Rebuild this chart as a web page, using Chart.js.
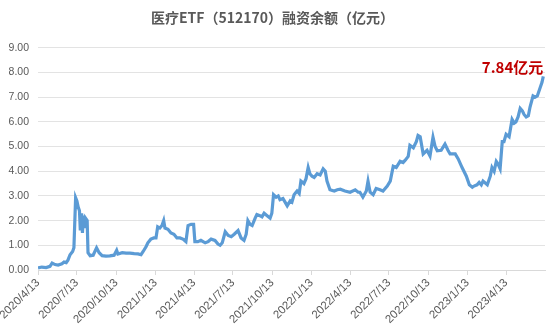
<!DOCTYPE html>
<html>
<head>
<meta charset="utf-8">
<script src="https://cdn.jsdelivr.net/npm/chart.js@4.4.0/dist/chart.umd.min.js"></script>
<style>
  html, body { margin: 0; padding: 0; background: #fff; }
  #wrap { width: 550px; height: 325px; position: relative; }
</style>
</head>
<body>
<div id="wrap"><canvas id="lineChart"></canvas></div>
<script>
const dates = [
  '2020-04-13','2020-04-22','2020-05-02','2020-05-11','2020-05-16','2020-05-23','2020-05-30','2020-06-08','2020-06-13','2020-06-18',
  '2020-06-22','2020-06-27','2020-07-03','2020-07-06','2020-07-10','2020-07-13','2020-07-16','2020-07-19','2020-07-21','2020-07-24',
  '2020-07-26','2020-07-28','2020-07-31','2020-08-02','2020-08-06','2020-08-08','2020-08-13','2020-08-20','2020-08-28','2020-09-03',
  '2020-09-10','2020-09-19','2020-09-28','2020-10-08','2020-10-14','2020-10-17','2020-10-27','2020-11-05','2020-11-14','2020-11-24',
  '2020-12-03','2020-12-10','2020-12-15','2020-12-22','2020-12-26','2021-01-02','2021-01-09','2021-01-14','2021-01-18','2021-01-23',
  '2021-01-28','2021-02-01','2021-02-04','2021-02-11','2021-02-18','2021-02-25','2021-03-04','2021-03-11','2021-03-18','2021-03-25',
  '2021-03-30','2021-04-06','2021-04-12','2021-04-15','2021-04-22','2021-04-29','2021-05-09','2021-05-16','2021-05-23','2021-06-01',
  '2021-06-08','2021-06-13','2021-06-18','2021-06-25','2021-07-02','2021-07-09','2021-07-16','2021-07-25','2021-08-01','2021-08-08',
  '2021-08-13','2021-08-17','2021-08-22','2021-08-27','2021-09-03','2021-09-07','2021-09-14','2021-09-19','2021-09-24','2021-10-01',
  '2021-10-08','2021-10-12','2021-10-16','2021-10-22','2021-10-27','2021-10-31','2021-11-07','2021-11-12','2021-11-17','2021-11-24',
  '2021-11-28','2021-12-03','2021-12-10','2021-12-15','2021-12-19','2021-12-26','2021-12-31','2022-01-05','2022-01-09','2022-01-14',
  '2022-01-19','2022-01-26','2022-02-02','2022-02-09','2022-02-14','2022-02-18','2022-02-25','2022-03-07','2022-03-14','2022-03-21',
  '2022-04-01','2022-04-13','2022-04-25','2022-05-02','2022-05-06','2022-05-13','2022-05-21','2022-05-25','2022-05-30','2022-06-06',
  '2022-06-13','2022-06-22','2022-06-29','2022-07-09','2022-07-16','2022-07-23','2022-07-30','2022-08-08','2022-08-15','2022-08-20',
  '2022-08-27','2022-08-31','2022-09-08','2022-09-15','2022-09-19','2022-09-24','2022-10-01','2022-10-10','2022-10-17','2022-10-24',
  '2022-10-29','2022-11-03','2022-11-12','2022-11-21','2022-11-28','2022-12-03','2022-12-15','2022-12-22','2022-12-31','2023-01-10',
  '2023-01-17','2023-01-24','2023-01-28','2023-02-04','2023-02-09','2023-02-14','2023-02-18','2023-02-28','2023-03-07','2023-03-11',
  '2023-03-16','2023-03-21','2023-03-25','2023-03-30','2023-04-04','2023-04-08','2023-04-13','2023-04-20','2023-04-27','2023-05-02',
  '2023-05-06','2023-05-11','2023-05-16','2023-05-21','2023-05-25','2023-05-30','2023-06-04','2023-06-08','2023-06-15','2023-06-20',
  '2023-06-25','2023-07-02','2023-07-06','2023-07-09'
];

const balance = [
  0.08,0.12,0.10,0.15,0.28,0.22,0.20,0.25,0.32,0.30,
  0.40,0.62,0.75,0.90,2.93,2.80,2.55,2.40,1.60,2.30,
  1.50,2.20,1.70,2.10,2.00,0.70,0.58,0.60,0.90,0.70,
  0.58,0.56,0.57,0.60,0.80,0.65,0.70,0.68,0.68,0.66,
  0.65,0.62,0.75,0.95,1.10,1.25,1.30,1.30,1.75,1.70,
  1.80,2.00,1.70,1.65,1.50,1.45,1.30,1.30,1.25,1.15,
  1.80,1.85,1.85,1.15,1.15,1.20,1.10,1.15,1.25,1.20,
  1.05,1.00,1.10,1.55,1.40,1.35,1.45,1.60,1.30,1.20,
  1.45,2.00,1.85,1.80,2.10,2.25,2.20,2.15,2.30,2.20,
  2.10,2.30,3.05,2.95,3.00,2.85,2.90,2.75,2.60,2.80,
  2.75,3.05,3.20,3.10,3.60,3.50,3.70,4.15,3.90,3.80,
  3.75,3.90,3.85,4.10,4.00,3.60,3.25,3.20,3.25,3.27,
  3.20,3.15,3.25,3.15,3.15,2.95,3.20,3.60,3.15,3.05,
  3.30,3.25,3.20,3.40,3.60,4.20,4.15,4.40,4.35,4.45,
  4.60,5.05,4.95,5.20,5.45,5.40,4.70,4.85,4.62,5.38,
  5.00,4.83,4.85,5.10,4.85,4.70,4.70,4.50,4.15,3.80,
  3.45,3.35,3.40,3.45,3.55,3.45,3.60,3.45,3.80,4.15,
  4.00,4.40,4.30,4.10,5.20,5.20,5.50,5.40,6.10,5.95,
  6.00,6.20,6.55,6.45,6.30,6.20,6.25,6.60,7.05,7.00,
  7.05,7.40,7.60,7.84
];

const tickLabels = ['2020/4/13','2020/7/13','2020/10/13','2021/1/13','2021/4/13','2021/7/13','2021/10/13',
  '2022/1/13','2022/4/13','2022/7/13','2022/10/13','2023/1/13','2023/4/13'];
const axisEnd = '2023/7/13';
const lastLabel = '7.84亿元';

const dayMs = 24 * 60 * 60 * 1000;
function toDay(s) {
  const p = s.split(/[-\/]/).map(Number);
  return Date.UTC(p[0], p[1] - 1, p[2]);
}
const startDay = toDay(tickLabels[0]);
const offset = s => Math.round((toDay(s) - startDay) / dayMs);

const points = dates.map((d, i) => ({ x: offset(d), y: balance[i] }));
const tickOffsets = tickLabels.map(offset);

const labelPlugin = {
  id: 'lastLabel',
  afterDatasetsDraw(chart) {
    const meta = chart.getDatasetMeta(0);
    const last = meta.data[meta.data.length - 1];
    const ctx = chart.ctx;
    ctx.save();
    ctx.font = 'bold 15px "Noto Sans CJK SC", sans-serif';
    ctx.fillStyle = '#c00000';
    ctx.textAlign = 'right';
    ctx.textBaseline = 'alphabetic';
    ctx.fillText(lastLabel, last.x, last.y - 3);
    ctx.restore();
  }
};

new Chart(document.getElementById('lineChart'), {
  type: 'line',
  data: {
    datasets: [{
      data: points,
      borderColor: '#5b9bd5',
      borderWidth: 3.2,
      pointRadius: 0,
      tension: 0,
      fill: false
    }]
  },
  options: {
    responsive: true,
    maintainAspectRatio: false,
    animation: false,
    events: [],
    layout: { padding: { left: 0, right: 5, top: 0, bottom: 0 } },
    plugins: {
      legend: { display: false },
      tooltip: { enabled: false },
      title: {
        display: true,
        text: '医疗ETF（512170）融资余额（亿元）',
        color: '#595959',
        font: { family: '"Noto Sans CJK SC", sans-serif', size: 14, weight: 'bold' },
        padding: { top: 9, bottom: 22 }
      }
    },
    scales: {
      x: {
        type: 'linear',
        min: 0,
        max: offset(axisEnd),
        afterBuildTicks: scale => {
          scale.ticks = tickOffsets.map(v => ({ value: v }));
        },
        afterFit: scale => { scale.height = 55; },
        ticks: {
          autoSkip: false,
          maxRotation: 45,
          minRotation: 45,
          padding: 1,
          color: '#595959',
          font: { family: '"Liberation Sans", sans-serif', size: 11.5 },
          callback: (v) => tickLabels[tickOffsets.indexOf(v)] || ''
        },
        grid: { drawOnChartArea: false, drawTicks: true, tickLength: 5, color: '#d9d9d9' },
        border: { color: '#d9d9d9' }
      },
      y: {
        min: 0,
        max: 9,
        afterFit: scale => { scale.width = 38; },
        ticks: {
          stepSize: 1,
          padding: 9,
          color: '#595959',
          font: { family: '"Liberation Sans", sans-serif', size: 10.5 },
          callback: v => v.toFixed(2)
        },
        grid: { color: '#e3e3e3', drawTicks: false },
        border: { display: false }
      }
    }
  },
  plugins: [labelPlugin]
});
</script>
</body>
</html>
